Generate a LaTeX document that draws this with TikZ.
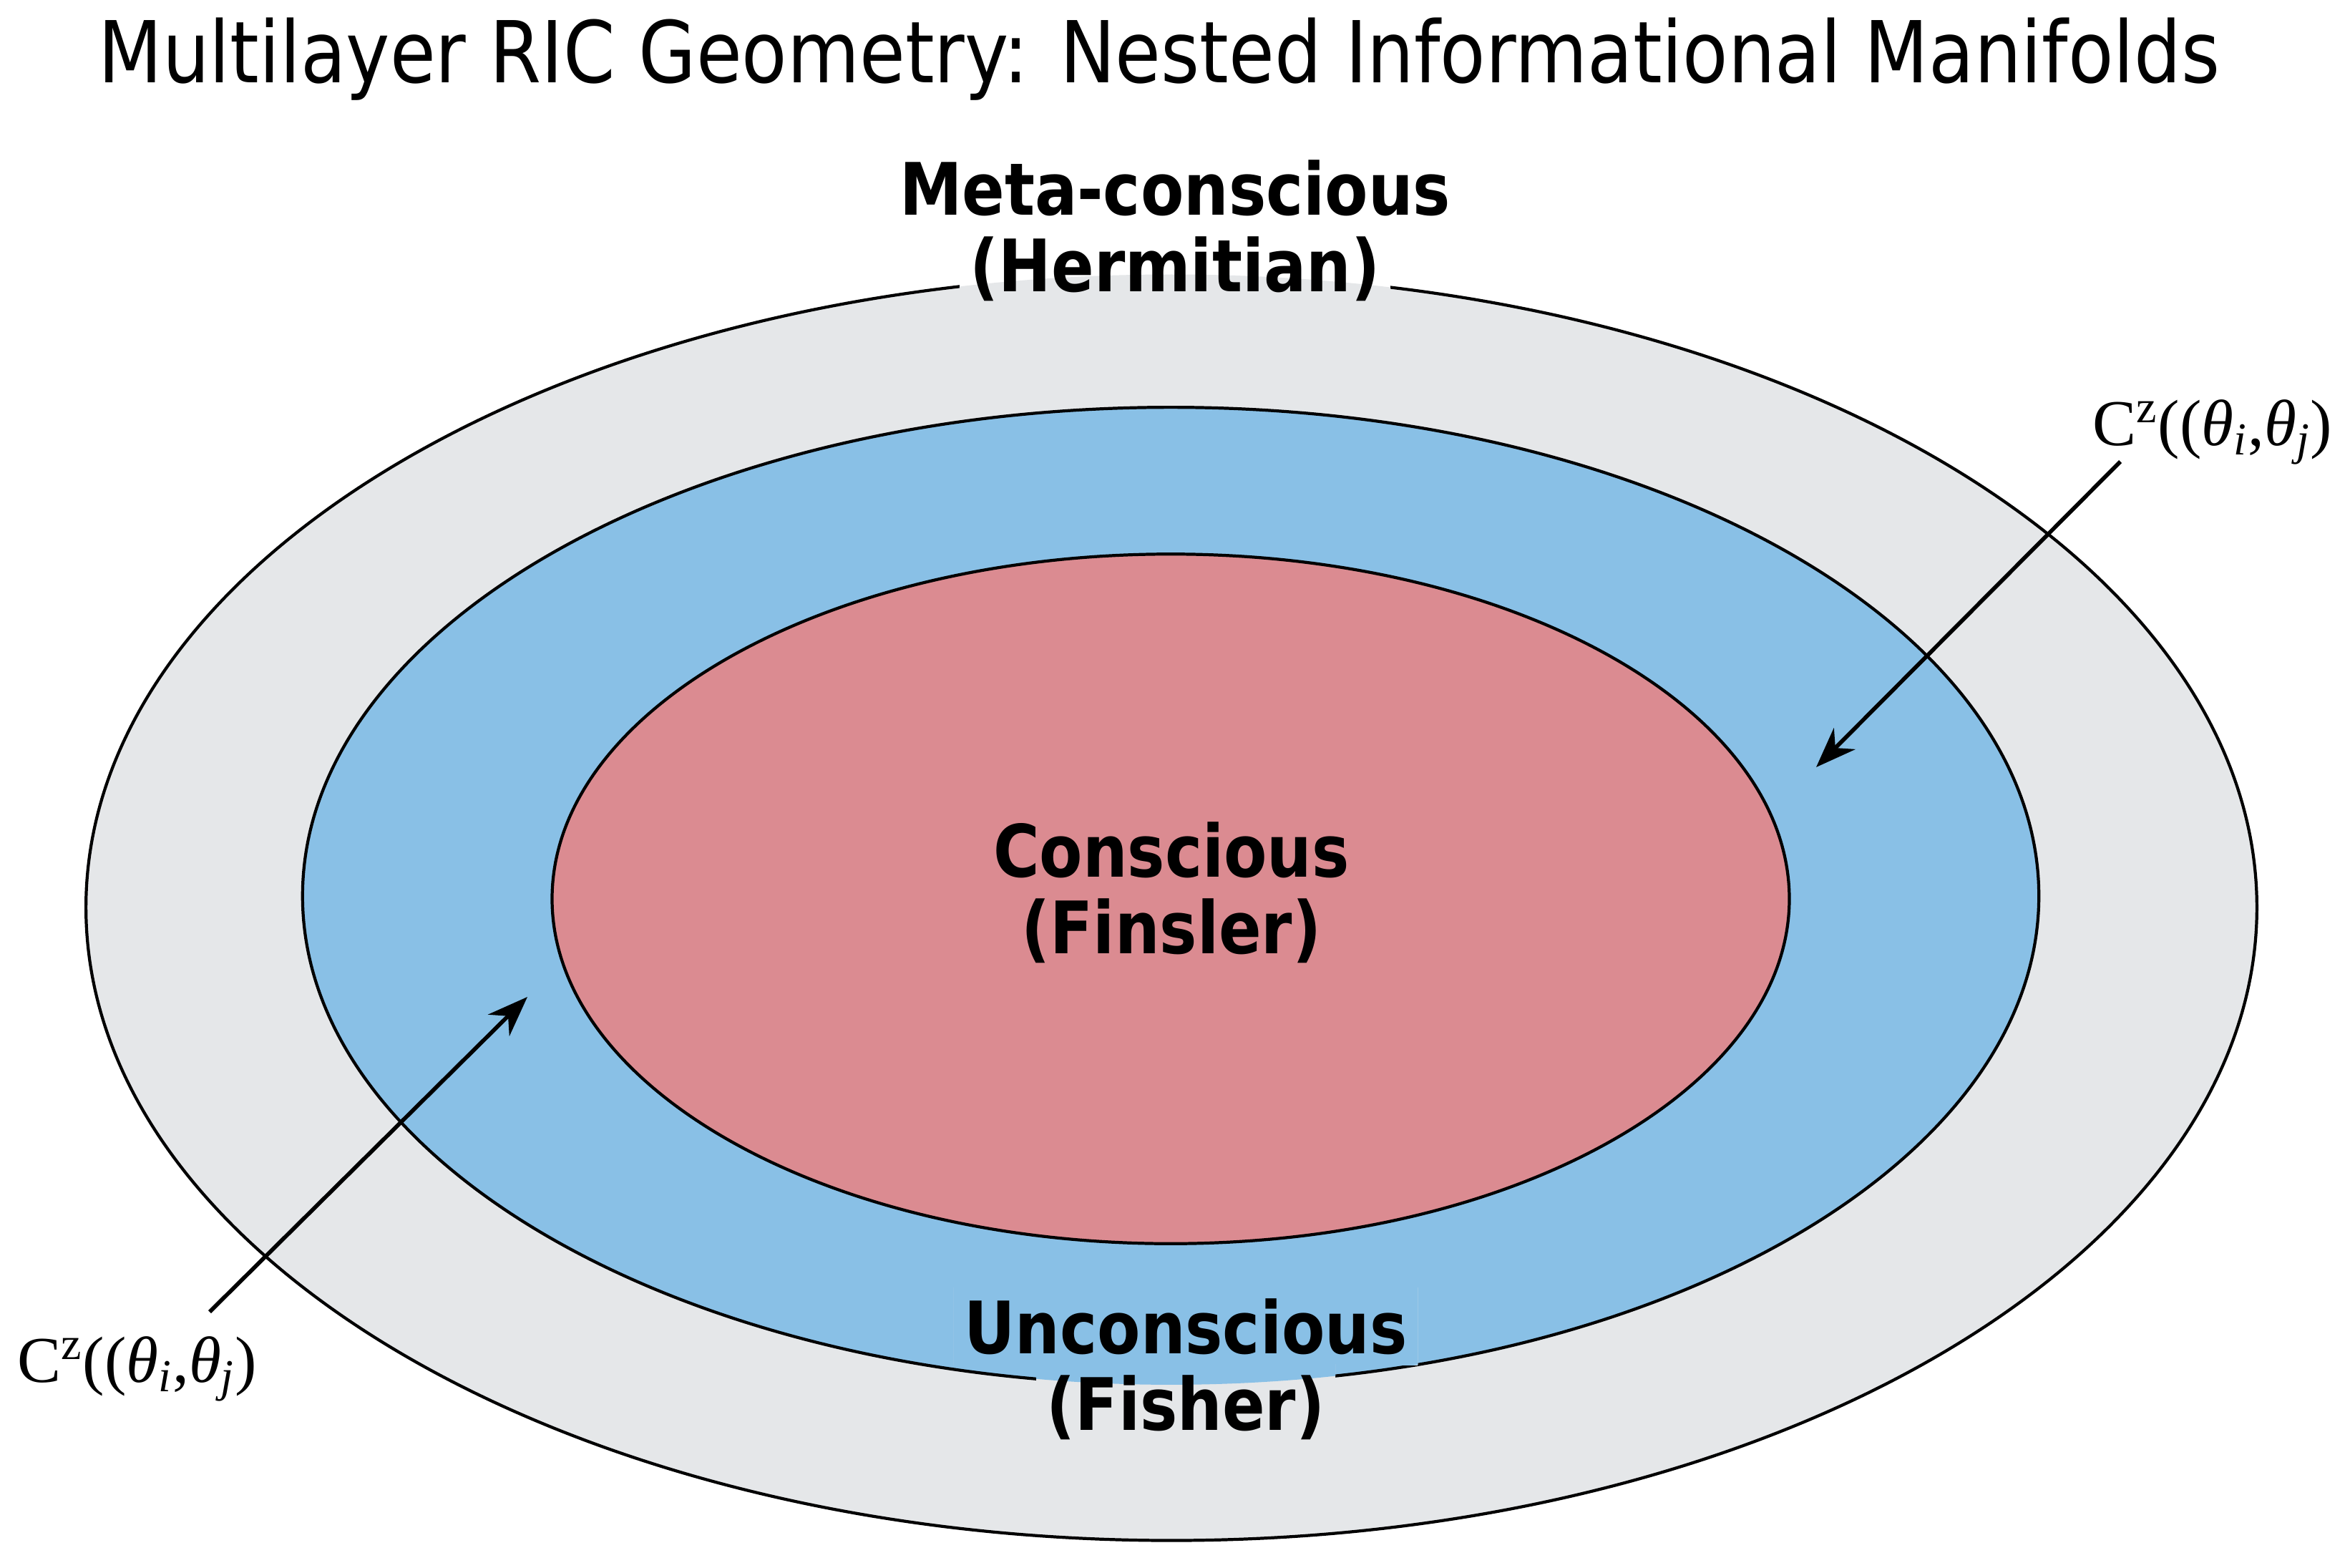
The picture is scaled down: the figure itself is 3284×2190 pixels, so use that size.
\documentclass[tikz,border=0pt]{standalone}
\usepackage{fontspec}
\setmainfont{DejaVu Sans}
\newfontfamily\formulafont{Liberation Serif}
\usepackage{tikz}
\usetikzlibrary{
  shapes.geometric,
  arrows.meta,
  positioning,
  backgrounds
}
\definecolor{metagray}{HTML}{E5E7E9}
\definecolor{unconblue}{HTML}{89C0E6}
\definecolor{conred}{HTML}{DB8B91}
\tikzstyle{shell} = [
  ellipse, draw=black, line width=1.2pt, inner sep=0pt
]
\tikzstyle{layerlabel} = [
  font=\fontsize{25}{30}\selectfont\bfseries, inner sep=4pt, anchor=base
]
\tikzstyle{formula} = [
  font=\formulafont\fontsize{26}{30}\selectfont, inner sep=0pt, anchor=base west
]
\tikzstyle{pointer} = [-{Stealth[length=16pt, width=12pt]}, line width=1.6pt]
% repaint the fills under a label so the outline breaks there
\newcommand{\refill}[1]{
  \begin{scope}
    \clip (#1.south west) rectangle (#1.north east);
    \fill[white] (#1.south west) rectangle (#1.north east);
    \fill[metagray] (metashell.center) ellipse [x radius=15.16cm, y radius=8.84cm];
    \fill[unconblue] (unconshell.center) ellipse [x radius=12.125cm, y radius=6.825cm];
    \fill[conred] (conshell.center) ellipse [x radius=8.64cm, y radius=4.815cm];
  \end{scope}
}
\newcommand{\tall}[1]{\scalebox{1}[1.15]{#1}}
\newcommand{\czlabel}{C\textsuperscript{z}((\textit{θ}\textsubscript{\textit{i}},\textit{θ}\textsubscript{\textit{j}})}

\begin{document}
\begin{tikzpicture}[x=0.01cm, y=-0.01cm]
\useasboundingbox (0,0) rectangle (3284,2190);

% --- Title ---
\node[anchor=base, font=\fontsize{29.5}{34}\selectfont, inner sep=0pt] (title) at (1620,115)
  {\tall{Multilayer RIC Geometry: Nested Informational Manifolds}};

% --- Nested manifolds ---
\begin{scope}[on background layer]
  \node[shell, fill=metagray, minimum width=30.32cm, minimum height=17.68cm] (metashell) at (1637,1268) {};
  \node[shell, fill=unconblue, minimum width=24.25cm, minimum height=13.65cm] (unconshell) at (1636,1252) {};
  \node[shell, fill=conred, minimum width=17.28cm, minimum height=9.63cm] (conshell) at (1636,1256) {};
\end{scope}

% --- Layer labels ---
\node[layerlabel] (metaname) at (1642,300) {\tall{Meta-conscious}};
\node[layerlabel] (metageo) at ([yshift=-1.07cm]metaname.base) {\tall{(Hermitian)}};
\node[layerlabel] (conname) at (1637,1225) {\tall{Conscious}};
\node[layerlabel] (congeo) at ([yshift=-1.07cm]conname.base) {\tall{(Finsler)}};
\node[layerlabel] (unconname) at (1657,1891) {\tall{Unconscious}};
\node[layerlabel] (uncongeo) at ([yshift=-1.07cm]unconname.base) {\tall{(Fisher)}};

\begin{scope}[on background layer]
  \refill{metageo}
  \refill{unconname}
  \refill{uncongeo}
\end{scope}

% --- Coupling labels ---
\node[formula] (czright) at (2924,622) {\czlabel};
\node[formula] (czleft) at (24,1931) {\czlabel};

\coordinate (righttail) at (2963,645);
\coordinate (righttip) at (2538,1072);
\coordinate (lefttail) at (293,1833);
\coordinate (lefttip) at (737,1393);

% --- Arrows ---
\draw[pointer] (righttail) -- (righttip);
\draw[pointer] (lefttail) -- (lefttip);

\end{tikzpicture}
\end{document}
